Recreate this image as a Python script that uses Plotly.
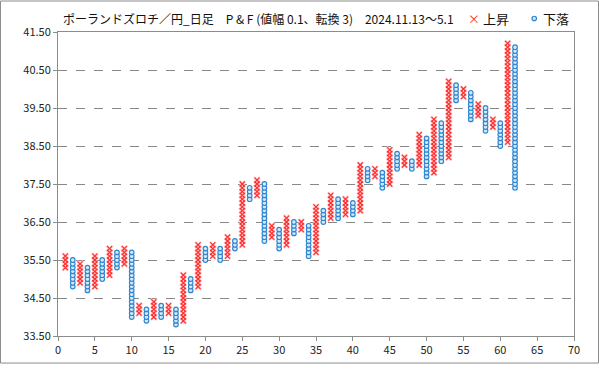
import plotly.graph_objects as go

BOX = 0.1

# Rising (X) columns: column number, lowest box, highest box
x_cols = [1, 3, 5, 7, 9, 11, 13, 15, 17, 19, 21, 23, 25, 27, 29, 31,
          33, 35, 37, 39, 41, 43, 45, 47, 49, 51, 53, 55, 57, 59, 61]
x_low = [35.3, 34.9, 34.8, 35.1, 35.4, 34.1, 34.0, 34.1, 33.9, 34.8, 35.6, 35.6, 35.9, 37.2, 36.1, 35.9,
         36.3, 35.7, 36.6, 36.7, 36.8, 37.7, 37.5, 38.0, 38.0, 37.8, 38.2, 39.8, 39.3, 39.0, 38.6]
x_high = [35.6, 35.4, 35.6, 35.8, 35.8, 34.3, 34.4, 34.3, 35.1, 35.9, 35.9, 36.1, 37.5, 37.6, 36.4, 36.6,
          36.5, 36.9, 37.2, 37.1, 38.0, 37.9, 38.4, 38.2, 38.8, 39.2, 40.2, 40.0, 39.6, 39.2, 41.2]

# Falling (O) columns: column number, highest box, lowest box
o_cols = [2, 4, 6, 8, 10, 12, 14, 16, 18, 20, 22, 24, 26, 28, 30, 32,
          34, 36, 38, 40, 42, 44, 46, 48, 50, 52, 54, 56, 58, 60, 62]
o_high = [35.5, 35.3, 35.5, 35.7, 35.7, 34.2, 34.3, 34.2, 35.0, 35.8, 35.8, 36.0, 37.4, 37.5, 36.3, 36.5,
          36.4, 36.8, 37.1, 37.0, 37.9, 37.8, 38.3, 38.1, 38.7, 39.1, 40.1, 39.9, 39.5, 39.1, 41.1]
o_low = [34.8, 34.7, 35.0, 35.3, 34.0, 33.9, 34.0, 33.8, 34.7, 35.5, 35.5, 35.8, 37.1, 36.0, 35.8, 36.2,
         35.6, 36.5, 36.6, 36.7, 37.6, 37.4, 37.9, 37.9, 37.7, 38.1, 39.7, 39.2, 38.9, 38.5, 37.4]

y_ticks = [33.5, 34.5, 35.5, 36.5, 37.5, 38.5, 39.5, 40.5, 41.5]
x_ticks = list(range(0, 71, 5))

title_text = "ポーランドズロチ／円_日足　P & F (値幅 0.1、転換 3)　2024.11.13～5.1"
up_name = "上昇"
down_name = "下落"


def expand(cols, lows, highs):
    xs, ys = [], []
    for c, lo, hi in zip(cols, lows, highs):
        a, b = int(round(lo / BOX)), int(round(hi / BOX))
        for k in range(a, b + 1):
            xs.append(c)
            ys.append(k * BOX)
    return xs, ys


xx, xy = expand(x_cols, x_low, x_high)
ox, oy = expand(o_cols, o_low, o_high)

RED = "#FF2A2A"
BLUE = "#2F86D0"

fig = go.Figure()
fig.add_trace(go.Scatter(
    x=xx, y=xy, mode="markers", name=up_name, showlegend=False, hoverinfo="skip",
    marker=dict(symbol="x-thin", size=6, line=dict(color="#FFC8C8", width=2.4)),
))
fig.add_trace(go.Scatter(
    x=xx, y=xy, mode="markers", name=up_name, showlegend=False,
    marker=dict(symbol="x-thin", size=5, line=dict(color=RED, width=1.1)),
))
fig.add_trace(go.Scatter(
    x=ox, y=oy, mode="markers", name=down_name, showlegend=False,
    marker=dict(symbol="circle", size=4.6, color="#D3E8F8",
                line=dict(color=BLUE, width=1.2)),
))

W, H = 599, 369
L, R, T, B = 58, 25, 32, 28
pw, ph = W - L - R, H - T - B


def px(xp):
    return (xp - L) / pw


def py(yp):
    return (T + ph - yp) / ph


annotations = [
    dict(text=title_text, xref="paper", yref="paper", x=px(61), y=py(18),
         xanchor="left", yanchor="middle", showarrow=False,
         font=dict(size=12, color="#111")),
    dict(text="×", xref="paper", yref="paper", x=px(474), y=py(18),
         xanchor="center", yanchor="middle", showarrow=False,
         font=dict(size=12, color=RED)),
    dict(text=up_name, xref="paper", yref="paper", x=px(481), y=py(18),
         xanchor="left", yanchor="middle", showarrow=False,
         font=dict(size=13, color="#111")),
    dict(text=down_name, xref="paper", yref="paper", x=px(541), y=py(18),
         xanchor="left", yanchor="middle", showarrow=False,
         font=dict(size=13, color="#111")),
]

shapes = [
    dict(type="rect", xref="paper", yref="paper",
         x0=px(0.5), x1=px(W - 0.5), y0=py(H - 0.5), y1=py(0.5),
         line=dict(color="#8C8C8C", width=1), fillcolor="rgba(0,0,0,0)", layer="below"),
    dict(type="circle", xref="paper", yref="paper",
         x0=px(532), x1=px(536.5), y0=py(20.5), y1=py(16),
         line=dict(color=BLUE, width=1.2), fillcolor="#D3E8F8"),
]

fig.update_layout(
    width=W, height=H,
    margin=dict(l=L, r=R, t=T, b=B),
    paper_bgcolor="white", plot_bgcolor="white",
    font=dict(family="Noto Sans CJK JP, Liberation Sans, sans-serif", size=11, color="#222"),
    showlegend=False,
    annotations=annotations,
    shapes=shapes,
)

fig.update_xaxes(
    range=[0, 70], tickvals=x_ticks, showgrid=False,
    showline=True, linecolor="#8C8C8C", linewidth=1, mirror=True,
    ticks="outside", ticklen=4, tickcolor="#8C8C8C", zeroline=False,
    tickfont=dict(size=11),
)
fig.update_yaxes(
    range=[33.5, 41.5], tickvals=y_ticks, tickformat=".2f",
    showgrid=True, gridcolor="#888888", griddash="dash", gridwidth=1,
    showline=True, linecolor="#8C8C8C", linewidth=1, mirror=True,
    ticks="outside", ticklen=4, tickcolor="#8C8C8C", zeroline=False,
    tickfont=dict(size=11),
)

fig.write_html(
    "out.html",
    config={"displayModeBar": False},
    post_script="document.body.style.margin='0';document.body.style.overflow='hidden';",
)
